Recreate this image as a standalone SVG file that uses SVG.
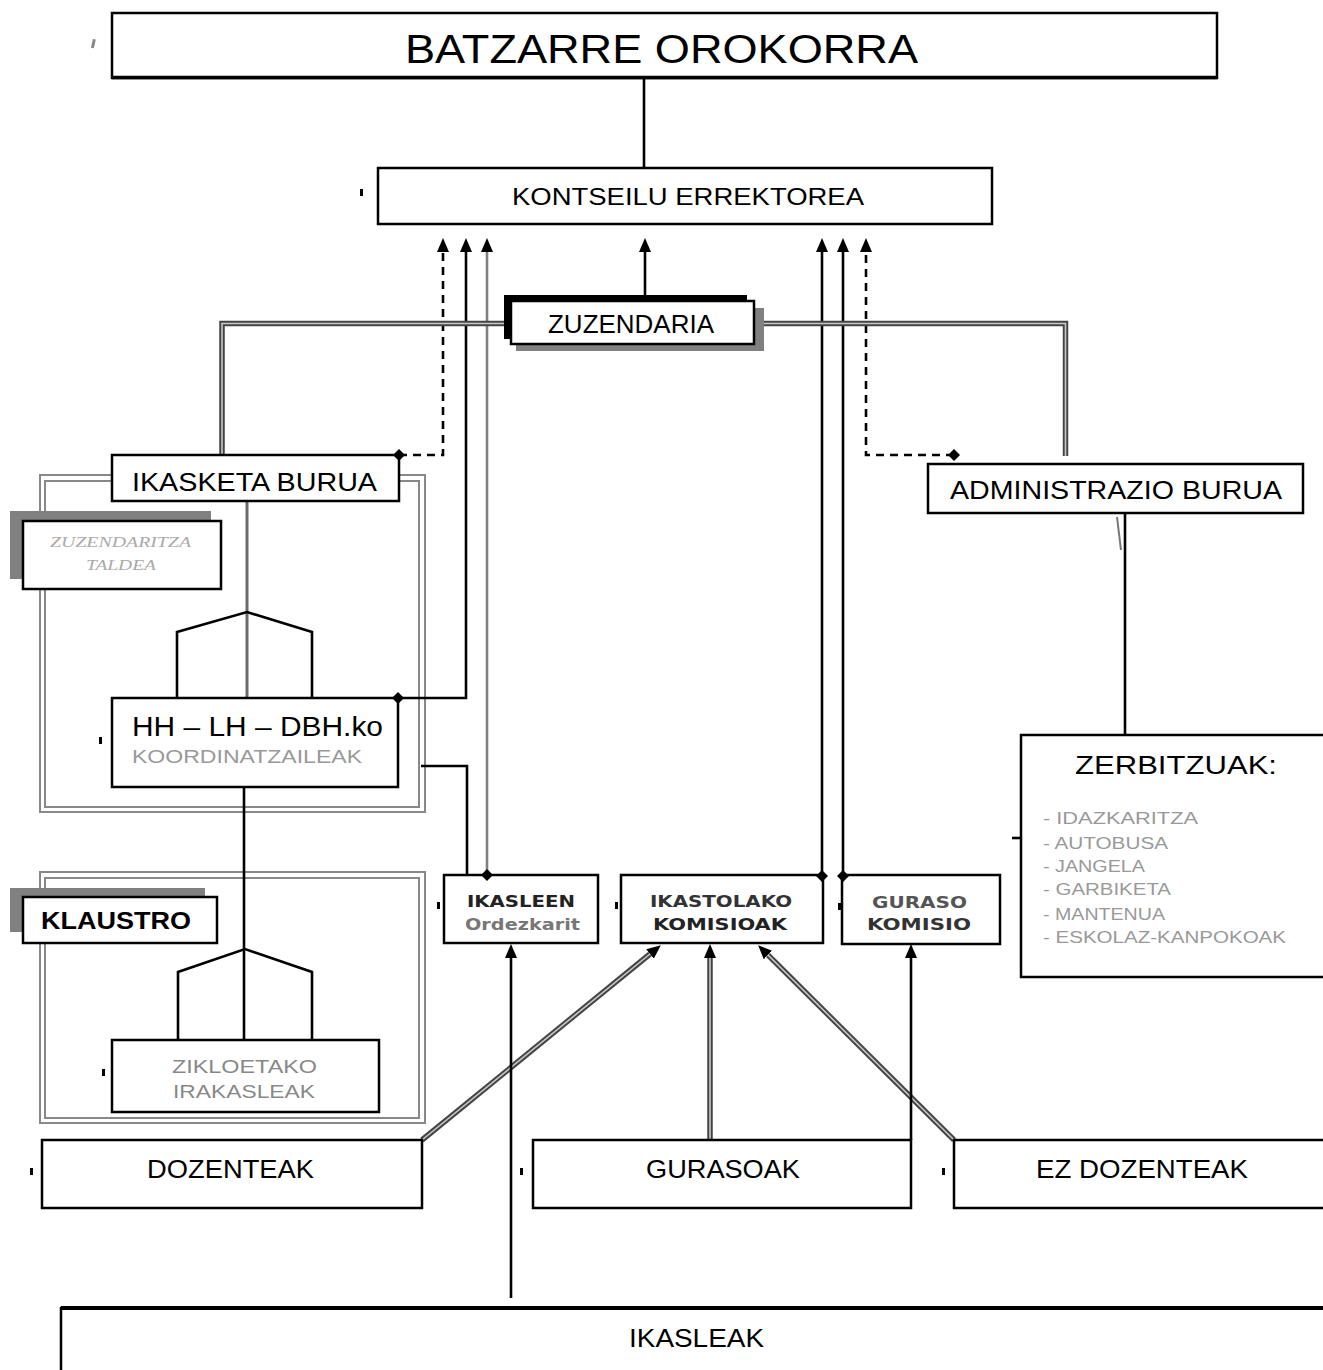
<svg xmlns="http://www.w3.org/2000/svg" width="1323" height="1370" viewBox="0 0 1323 1370">
<style>
.box{fill:#fff;stroke:#000;stroke-width:2.5}
.grp{fill:none;stroke:#888;stroke-width:2}
.t{font-family:"Liberation Sans",Arial,sans-serif;fill:#000}
.tb{font-family:"DejaVu Sans","Liberation Sans",sans-serif;font-weight:bold;font-size:16px}
.gr{fill:#999}
.gz{fill:#888}
.ln{fill:none;stroke:#000;stroke-width:2.6}
.gl{fill:none;stroke:#808080;stroke-width:2.6}
.ds{fill:none;stroke:#000;stroke-width:2.6;stroke-dasharray:8 6}
.dbo{fill:none;stroke:#444;stroke-width:5.5}
.dbi{fill:none;stroke:#c8c8c8;stroke-width:1.6}
.mk{fill:#000}
</style>
<defs>
<marker id="arr" markerUnits="userSpaceOnUse" markerWidth="14" markerHeight="12" refX="0" refY="6" orient="auto" viewBox="0 0 14 12"><path d="M0,0 L14,6 L0,12 z" fill="#000"/></marker>
<path id="jd" d="M0,-6 L6,0 L0,6 L-6,0 z" fill="#000"/>
</defs>

<g id="groups">
<g id="group-zuzendaritza">
<rect class="grp" x="40" y="475" width="385" height="337"/>
<rect class="grp" x="45" y="481" width="374" height="326"/>
</g>
<g id="group-klaustro">
<rect class="grp" x="40" y="872" width="385" height="251"/>
<rect class="grp" x="45" y="878" width="374" height="240"/>
</g>
</g>

<g id="connectors">
<path class="ln" d="M644,78 V167"/>
<path class="ln" d="M645,295 V252" marker-end="url(#arr)"/>
<path class="ds" d="M399,455 H443 V252" marker-end="url(#arr)"/>
<path class="ln" d="M398,698 H466 V252" marker-end="url(#arr)"/>
<path class="gl" d="M487,875 V252" marker-end="url(#arr)"/>
<path class="ln" d="M421,766 H467 V875"/>
<path class="ln" d="M822,875 V252" marker-end="url(#arr)"/>
<path class="ln" d="M843,875 V252" marker-end="url(#arr)"/>
<path class="ds" d="M954,455 H866 V252" marker-end="url(#arr)"/>
<path class="dbo" d="M222,455 V323.5 H1065.5 V456" stroke="#5a5a5a"/>
<path class="dbi" d="M222,455 V323.5 H1065.5 V456" stroke="#bdbdbd"/>
<path class="ln" d="M1125,510 V735"/>
<path fill="none" stroke="#777" stroke-width="2" d="M1117,517 L1121,550"/>
<path fill="none" stroke="#6a6a6a" stroke-width="3" d="M247,501 V698"/>
<path class="ln" d="M177,698 V632 L247,612 L312,632 V698"/>
<path class="ln" d="M244,787 V1040"/>
<path class="ln" d="M178,1040 V972 L245,949 L312,972 V1040"/>
<path class="dbo" d="M422,1140 L650,954" marker-end="url(#arr)"/>
<path class="dbi" d="M422,1140 L650,954"/>
<path class="dbo" d="M710,1140 V958" marker-end="url(#arr)"/>
<path class="dbi" d="M710,1140 V958"/>
<path class="dbo" d="M954,1140 L768,955" marker-end="url(#arr)"/>
<path class="dbi" d="M954,1140 L768,955"/>
<path class="ln" d="M911,1140 V958" marker-end="url(#arr)"/>
<path class="ln" d="M511,1298 V958" marker-end="url(#arr)"/>
<path class="ln" d="M1012,838 H1021"/>
</g>

<g id="marks">
<rect x="92" y="39" width="3" height="9" fill="#888" transform="rotate(12 93 43)"/>
<rect class="mk" x="360" y="189" width="3" height="7"/>
<rect class="mk" x="99" y="737" width="3" height="7"/>
<rect class="mk" x="437" y="902" width="3" height="7"/>
<rect class="mk" x="615" y="902" width="3" height="7"/>
<rect class="mk" x="838" y="903" width="3" height="7"/>
<rect class="mk" x="102" y="1069" width="3" height="7"/>
<rect class="mk" x="30" y="1168" width="3" height="7"/>
<rect class="mk" x="520" y="1168" width="3" height="7"/>
<rect class="mk" x="942" y="1168" width="3" height="7"/>
</g>

<g id="batzarre-orokorra">
<rect class="box" x="112" y="13" width="1105" height="65"/>
<line x1="112" y1="77.5" x2="1217" y2="77.5" stroke="#000" stroke-width="3.5"/>
<text class="t" x="405" y="63" font-size="40" textLength="513" lengthAdjust="spacingAndGlyphs">BATZARRE OROKORRA</text>
</g>

<g id="kontseilu-errektorea">
<rect class="box" x="378" y="168" width="614" height="56"/>
<text class="t" x="512" y="205" font-size="24" textLength="352" lengthAdjust="spacingAndGlyphs">KONTSEILU ERREKTOREA</text>
</g>

<g id="zuzendaria">
<rect x="504" y="295" width="243" height="44" fill="#000"/>
<rect x="516" y="308" width="248" height="43" fill="#808080"/>
<rect class="box" x="511" y="301" width="243" height="43"/>
<text class="t" x="548" y="333" font-size="25" textLength="166" lengthAdjust="spacingAndGlyphs">ZUZENDARIA</text>
</g>

<g id="ikasketa-burua">
<rect class="box" x="112" y="455" width="287" height="46"/>
<text class="t" x="132" y="491" font-size="25" textLength="245" lengthAdjust="spacingAndGlyphs">IKASKETA BURUA</text>
</g>

<g id="administrazio-burua">
<rect class="box" x="928" y="464" width="375" height="49"/>
<text class="t" x="950" y="499" font-size="25" textLength="332" lengthAdjust="spacingAndGlyphs">ADMINISTRAZIO BURUA</text>
</g>

<g id="zuzendaritza-taldea">
<rect x="10" y="511" width="201" height="68" fill="#808080"/>
<rect class="box" x="23" y="521" width="198" height="68"/>
<text x="50" y="547" font-family="'Liberation Serif',serif" font-style="italic" font-size="15" fill="#aaa" textLength="141" lengthAdjust="spacingAndGlyphs">ZUZENDARITZA</text>
<text x="86" y="570" font-family="'Liberation Serif',serif" font-style="italic" font-size="15" fill="#aaa" textLength="70" lengthAdjust="spacingAndGlyphs">TALDEA</text>
</g>

<g id="koordinatzaileak">
<rect class="box" x="112" y="698" width="286" height="89"/>
<text class="t" x="132" y="736" font-size="27" textLength="251" lengthAdjust="spacingAndGlyphs">HH – LH – DBH.ko</text>
<text class="t gr" x="132" y="763" font-size="19" textLength="230" lengthAdjust="spacingAndGlyphs">KOORDINATZAILEAK</text>
</g>

<g id="zerbitzuak">
<rect class="box" x="1021" y="735" width="340" height="242"/>
<text class="t" x="1075" y="774" font-size="26" textLength="202" lengthAdjust="spacingAndGlyphs">ZERBITZUAK:</text>
<g font-size="16">
<text class="t gr" x="1043" y="824" textLength="155" lengthAdjust="spacingAndGlyphs">- IDAZKARITZA</text>
<text class="t gr" x="1043" y="849" textLength="125" lengthAdjust="spacingAndGlyphs">- AUTOBUSA</text>
<text class="t gr" x="1043" y="872" textLength="102" lengthAdjust="spacingAndGlyphs">- JANGELA</text>
<text class="t gr" x="1043" y="895" textLength="128" lengthAdjust="spacingAndGlyphs">- GARBIKETA</text>
<text class="t gr" x="1043" y="920" textLength="122" lengthAdjust="spacingAndGlyphs">- MANTENUA</text>
<text class="t gr" x="1043" y="943" textLength="243" lengthAdjust="spacingAndGlyphs">- ESKOLAZ-KANPOKOAK</text>
</g>
</g>

<g id="klaustro">
<rect x="10" y="888" width="195" height="44" fill="#808080"/>
<rect class="box" x="23" y="897" width="194" height="46"/>
<text class="t" x="41" y="929" font-size="24" font-weight="bold" textLength="150" lengthAdjust="spacingAndGlyphs">KLAUSTRO</text>
</g>

<g id="ikasleen-ordezkarit">
<rect class="box" x="444" y="875" width="154" height="68"/>
<text class="tb" x="467" y="907" fill="#222" textLength="108" lengthAdjust="spacingAndGlyphs">IKASLEEN</text>
<text class="tb" x="465" y="930" fill="#777" textLength="115" lengthAdjust="spacingAndGlyphs">Ordezkarit</text>
</g>

<g id="ikastolako-komisioak">
<rect class="box" x="621" y="875" width="202" height="68"/>
<text class="tb" x="650" y="907" fill="#333" textLength="142" lengthAdjust="spacingAndGlyphs">IKASTOLAKO</text>
<text class="tb" x="653" y="930" fill="#222" textLength="134" lengthAdjust="spacingAndGlyphs">KOMISIOAK</text>
</g>

<g id="guraso-komisio">
<rect class="box" x="842" y="875" width="158" height="69"/>
<text class="tb" x="872" y="908" fill="#555" textLength="95" lengthAdjust="spacingAndGlyphs">GURASO</text>
<text class="tb" x="867" y="930" fill="#333" textLength="104" lengthAdjust="spacingAndGlyphs">KOMISIO</text>
</g>

<g id="zikloetako-irakasleak">
<rect class="box" x="112" y="1040" width="267" height="72"/>
<text class="t gz" x="172" y="1073" font-size="19" textLength="145" lengthAdjust="spacingAndGlyphs">ZIKLOETAKO</text>
<text class="t gz" x="173" y="1098" font-size="19" textLength="142" lengthAdjust="spacingAndGlyphs">IRAKASLEAK</text>
</g>

<g id="dozenteak">
<rect class="box" x="42" y="1140" width="380" height="68"/>
<text class="t" x="147" y="1178" font-size="25" textLength="167" lengthAdjust="spacingAndGlyphs">DOZENTEAK</text>
</g>

<g id="gurasoak">
<rect class="box" x="533" y="1140" width="378" height="68"/>
<text class="t" x="646" y="1178" font-size="25" textLength="154" lengthAdjust="spacingAndGlyphs">GURASOAK</text>
</g>

<g id="ez-dozenteak">
<rect class="box" x="954" y="1140" width="400" height="68"/>
<text class="t" x="1036" y="1178" font-size="25" textLength="212" lengthAdjust="spacingAndGlyphs">EZ DOZENTEAK</text>
</g>

<g id="ikasleak">
<rect class="box" x="61" y="1308" width="1300" height="100"/>
<line x1="61" y1="1308" x2="1323" y2="1308" stroke="#000" stroke-width="4"/>
<text class="t" x="629" y="1347" font-size="26" textLength="135" lengthAdjust="spacingAndGlyphs">IKASLEAK</text>
</g>

<g id="junctions">
<use href="#jd" x="399" y="455"/>
<use href="#jd" x="398" y="698"/>
<use href="#jd" x="487" y="875"/>
<use href="#jd" x="822" y="876"/>
<use href="#jd" x="843" y="876"/>
<use href="#jd" x="954" y="455"/>
</g>
</svg>
